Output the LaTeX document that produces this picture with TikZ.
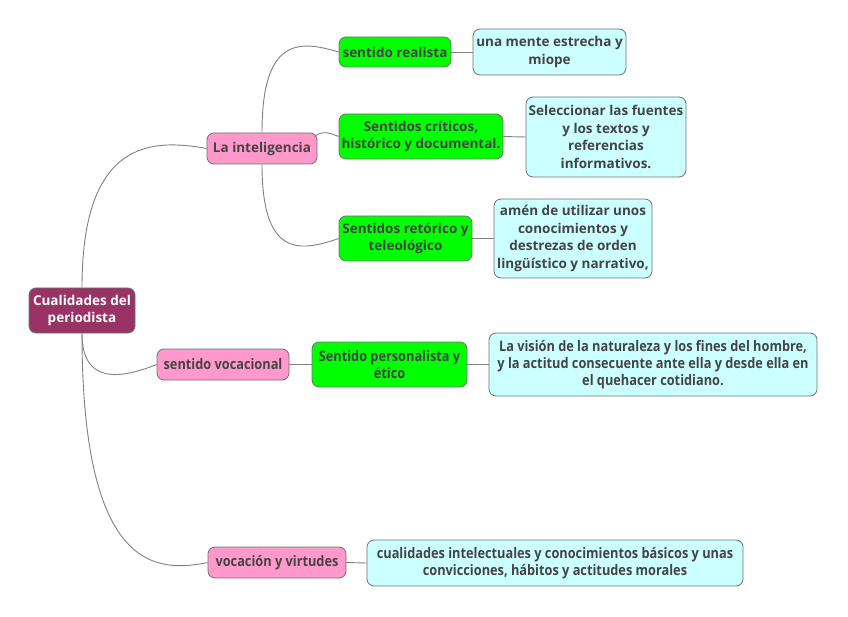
\documentclass[tikz,border=0pt]{standalone}
\usepackage{fontspec}
\setmainfont{Open Sans}
\newfontfamily\condfont[FakeStretch=0.88]{Open Sans}
\definecolor{rootfill}{HTML}{993366}
\definecolor{pinkfill}{HTML}{FF99CC}
\definecolor{greenfill}{HTML}{00FF00}
\definecolor{cyanfill}{HTML}{CCFFFF}
\definecolor{bordergray}{HTML}{707070}
\definecolor{linegray}{HTML}{808080}
\definecolor{txt}{HTML}{444444}
\tikzset{
  mbox/.style={draw=bordergray, rounded corners=7pt, line width=0.8pt, align=center, inner sep=0pt,
    font=\fontsize{13.5}{17.5}\selectfont\bfseries, text=txt},
  condtext/.style={font=\fontsize{14.5}{17}\condfont\bfseries},
  rootbox/.style={mbox, fill=rootfill, text=white},
  pinkbox/.style={mbox, fill=pinkfill},
  greenbox/.style={mbox, fill=greenfill},
  cyanbox/.style={mbox, fill=cyanfill},
  link/.style={draw=linegray, line width=0.9pt}
}
\begin{document}
\begin{tikzpicture}[x=1pt,y=-1pt]
\useasboundingbox (0,0) rectangle (848,617);
\node[rootbox, minimum width=106pt, minimum height=45pt] (root) at (82,310.5) {Cualidades del\\periodista};
\node[pinkbox, minimum width=110pt, minimum height=31pt] (intel) at (262,148.5) {La inteligencia};
\node[greenbox, minimum width=112pt, minimum height=30pt] (realista) at (395,52) {sentido realista};
\node[cyanbox, minimum width=153pt, minimum height=46pt] (mente) at (549.5,52) {una mente estrecha y\\miope};
\node[greenbox, minimum width=164pt, minimum height=45pt] (criticos) at (421,136.5) {Sentidos críticos,\\histórico y documental.};
\node[cyanbox, minimum width=160pt, minimum height=80pt] (fuentes) at (606,137) {Seleccionar las fuentes\\y los textos y\\referencias\\informativos.};
\node[greenbox, minimum width=133pt, minimum height=45pt] (retorico) at (405.5,238.5) {Sentidos retórico y\\teleológico};
\node[cyanbox, minimum width=158pt, minimum height=79pt] (amen) at (573,238.5) {amén de utilizar unos\\conocimientos y\\destrezas de orden\\lingüístico y narrativo,};
\node[pinkbox, condtext, minimum width=132pt, minimum height=31pt] (vocacional) at (223,364.5) {sentido vocacional};
\node[greenbox, condtext, minimum width=155pt, minimum height=45pt] (personalista) at (389.5,364.5) {Sentido personalista y\\ético};
\node[cyanbox, condtext, minimum width=328pt, minimum height=63pt] (vision) at (653,364.5) {La visión de la naturaleza y los fines del hombre,\\y la actitud consecuente ante ella y desde ella en\\el quehacer cotidiano.};
\node[pinkbox, condtext, minimum width=138pt, minimum height=31pt] (virtudes) at (277,562.5) {vocación y virtudes};
\node[cyanbox, condtext, minimum width=376pt, minimum height=46pt] (cualidades) at (555,563) {cualidades intelectuales y conocimientos básicos y unas\\convicciones, hábitos y actitudes morales};

\coordinate (intelNE) at ([xshift=-3pt,yshift=12pt]intel.east);
\draw[link] (root.north) .. controls +(0,-148) and +(-55,-10) .. (intel.west);
\draw[link] (root.south) .. controls +(0,52) and +(-35,14) .. (vocacional.west);
\draw[link] (root.south) .. controls +(0,240) and +(-50,10) .. (virtudes.west);
\draw[link] (intel.north) .. controls +(0,-95) and +(-40,-12) .. (realista.west);
\draw[link] (intelNE) .. controls +(8,-6) and +(-10,-4) .. (criticos.west);
\draw[link] (intel.south) .. controls +(0,92) and +(-40,14) .. (retorico.west);
\draw[link] (realista.east) -- (mente.west);
\draw[link] (criticos.east) -- (fuentes.west);
\draw[link] (retorico.east) -- (amen.west);
\draw[link] (vocacional.east) -- (personalista.west);
\draw[link] (personalista.east) -- (vision.west);
\draw[link] (virtudes.east) -- (cualidades.west);
\end{tikzpicture}
\end{document}
